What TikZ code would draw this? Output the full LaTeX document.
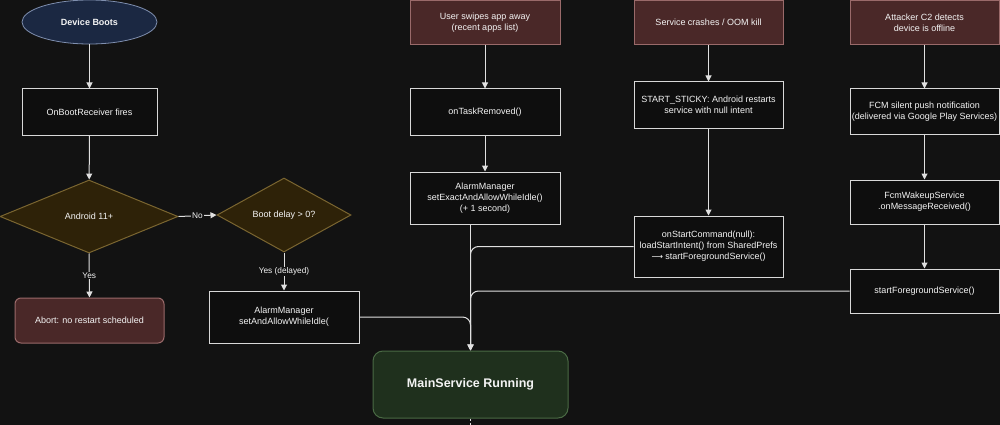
\documentclass[tikz,border=0pt]{standalone}
\usepackage{fontspec}
\setmainfont{Liberation Sans}
\newfontfamily\arrowfont{DejaVu Sans}
\usetikzlibrary{shapes.geometric,arrows.meta}
\definecolor{bg}{HTML}{121212}
\definecolor{boxfill}{HTML}{0E0E0E}
\definecolor{boxline}{HTML}{D8D8D8}
\definecolor{txt}{HTML}{F4F4F4}
\definecolor{ellfill}{HTML}{1B2842}
\definecolor{ellline}{HTML}{7F8FAF}
\definecolor{diafill}{HTML}{2E2208}
\definecolor{dialine}{HTML}{7A6530}
\definecolor{redfill}{HTML}{4A2828}
\definecolor{redline}{HTML}{9A6A6A}
\definecolor{grnfill}{HTML}{1F301D}
\definecolor{grnline}{HTML}{4A6A44}
\definecolor{conn}{HTML}{E0E0E0}
\tikzset{
  base/.style={inner sep=0pt, align=center, text=txt, font=\fontsize{9}{11}\selectfont, line width=1pt},
  proc/.style={base, draw=boxline, fill=boxfill, rectangle},
  trig/.style={base, draw=redline, fill=redfill, rectangle},
  abortbox/.style={base, draw=redline, fill=redfill, rectangle, rounded corners=6pt},
  dec/.style={base, draw=dialine, fill=diafill, diamond},
  startell/.style={base, draw=ellline, fill=ellfill, ellipse, line width=0.8pt, font=\fontsize{9}{11}\selectfont\bfseries},
  mainbox/.style={base, draw=grnline, fill=grnfill, rectangle, rounded corners=10pt, font=\fontsize{12.5}{14}\selectfont\bfseries},
  arr/.style={draw=conn, line width=1pt, -{Triangle[length=6pt,width=6pt]}},
  lbl/.style={fill=bg, text=txt, inner sep=1pt, font=\fontsize{8.3}{10}\selectfont},
}
\begin{document}
\begin{tikzpicture}[x=1pt,y=-1pt]
\fill[bg] (0,0) rectangle (1000,425);
\useasboundingbox (0,0) rectangle (1000,425);

% left column
\node[startell, minimum width=135pt, minimum height=44pt] (boot) at (89.5,22) {Device Boots};
\node[proc, minimum width=135pt, minimum height=46pt] (obr) at (89.5,112) {OnBootReceiver fires};
\node[dec, minimum width=178pt, minimum height=73pt] (a11) at (89,216.5) {Android 11+};
\node[dec, minimum width=134pt, minimum height=74pt] (bd) at (284,215) {Boot delay > 0?};
\node[abortbox, minimum width=149pt, minimum height=45pt] (abort) at (89.5,320.5) {Abort: no restart scheduled};
\node[proc, minimum width=150pt, minimum height=52pt] (alarm) at (284,317) {AlarmManager\\setAndAllowWhileIdle(};

% middle column
\node[trig, minimum width=150pt, minimum height=44pt] (swipe) at (485,22.5) {User swipes app away\\(recent apps list)};
\node[proc, minimum width=150pt, minimum height=46pt] (task) at (485,112) {onTaskRemoved()};
\node[proc, minimum width=150pt, minimum height=52pt] (setx) at (485,198) {AlarmManager\\setExactAndAllowWhileIdle()\\(+ 1 second)};
\node[mainbox, minimum width=195pt, minimum height=67pt] (main) at (470.5,384.5) {MainService Running};

% crash column
\node[trig, minimum width=149pt, minimum height=44pt] (crash) at (708.5,22.5) {Service crashes / OOM kill};
\node[proc, minimum width=149pt, minimum height=46pt] (sticky) at (708.5,105) {START\_STICKY: Android restarts\\service with null intent};
\node[proc, minimum width=149pt, minimum height=61pt] (osc) at (708.5,246.5) {onStartCommand(null):\\loadStartIntent() from SharedPrefs\\{\arrowfont\fontsize{8}{11}\selectfont ⟶} startForegroundService()};

% attacker column
\node[trig, minimum width=149pt, minimum height=44pt] (att) at (924.5,22.5) {Attacker C2 detects\\device is offline};
\node[proc, minimum width=149pt, minimum height=45pt] (fcm) at (924.5,111.5) {FCM silent push notification\\(delivered via Google Play Services)};
\node[proc, minimum width=149pt, minimum height=44pt] (wake) at (924.5,202) {FcmWakeupService\\.onMessageReceived()};
\node[proc, minimum width=149pt, minimum height=44pt] (sfg) at (924.5,291) {startForegroundService()};

\coordinate (tail) at (470.5,430);

% connectors
\draw[arr] (boot) -- (obr);
\draw[arr] (obr) -- (a11);
\draw[arr] (a11.east) -- node[lbl] {No} (bd.west);
\draw[arr] (a11.south) -- node[lbl] {Yes} (abort.north);
\draw[arr] (bd.south) -- node[lbl] {Yes (delayed)} (alarm.north);
\draw[arr] (swipe) -- (task);
\draw[arr] (task) -- (setx);
\draw[arr] (crash) -- (sticky);
\draw[arr] (sticky) -- (osc);
\draw[arr] (att) -- (fcm);
\draw[arr] (fcm) -- (wake);
\draw[arr] (wake) -- (sfg);

\draw[arr] (setx.south -| main.north) -- (main.north);
\draw[arr, rounded corners=8pt] (alarm.east) -- (alarm.east -| main.north) -- (main.north);
\draw[arr, rounded corners=8pt] (osc.west) -- (osc.west -| main.north) -- (main.north);
\draw[arr, rounded corners=8pt] (sfg.west) -- (sfg.west -| main.north) -- (main.north);
\draw[draw=conn, line width=1pt, dash pattern=on 2pt off 2pt] (main.south) -- (tail);
\end{tikzpicture}
\end{document}
